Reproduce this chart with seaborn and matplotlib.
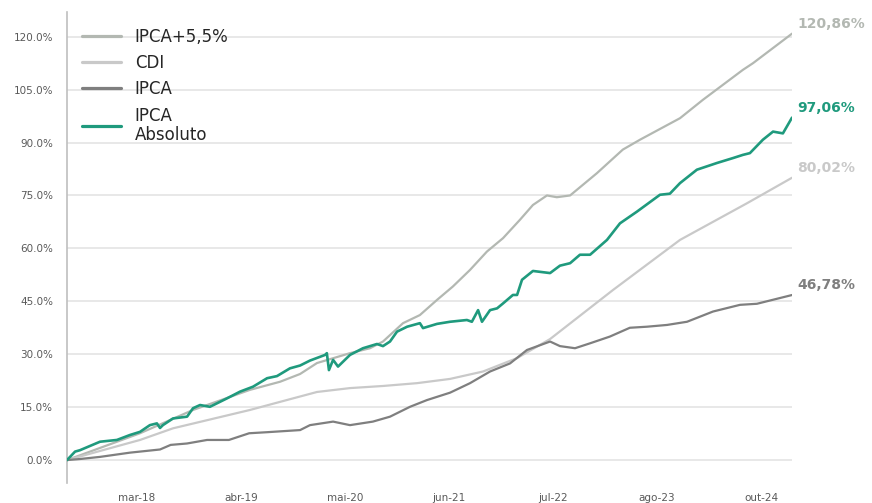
import matplotlib
matplotlib.use("Agg")
import matplotlib.pyplot as plt
import seaborn as sns
import pandas as pd

# ---------------- data ----------------
ipca55_dates = ["2017-06-01", "2018-03-09", "2018-09-29", "2019-05-06", "2019-08-30",
                "2019-11-15", "2020-01-19", "2020-05-25", "2020-08-10", "2020-09-29",
                "2020-12-15", "2021-02-18", "2021-04-25", "2021-06-25", "2021-08-30",
                "2021-11-03", "2022-01-04", "2022-03-10", "2022-04-29", "2022-06-22",
                "2022-07-30", "2022-09-19", "2022-12-31", "2023-04-10", "2023-06-15",
                "2023-11-16", "2024-02-12", "2024-07-15", "2024-08-23", "2025-01-20"]
ipca55_vals = [0.0, 7.6, 14.2, 19.9, 22.2,
               24.4, 27.5, 30.3, 31.7, 33.6,
               38.8, 41.1, 45.4, 49.2, 53.9,
               59.1, 62.9, 68.1, 72.3, 75.0,
               74.5, 75.0, 81.3, 88.0, 90.8,
               96.9, 102.1, 110.6, 112.5, 120.86]

cdi_dates = ["2017-06-01", "2017-12-10", "2018-03-09", "2018-07-14", "2019-05-06",
             "2019-08-30", "2020-01-19", "2020-05-25", "2020-09-29", "2021-02-07",
             "2021-06-14", "2021-10-19", "2022-02-27", "2022-07-04", "2023-03-03",
             "2023-11-16", "2024-07-31", "2025-01-20"]
cdi_vals = [0.0, 3.9, 5.7, 9.0, 14.2,
            16.5, 19.3, 20.4, 21.0, 21.8,
            23.0, 25.1, 28.9, 34.3, 48.2,
            62.4, 72.8, 80.02]

ipca_dates = ["2017-06-01", "2017-07-21", "2017-10-06", "2018-01-29", "2018-05-25",
              "2018-07-05", "2018-09-06", "2018-11-22", "2019-02-14", "2019-05-03",
              "2019-07-11", "2019-11-15", "2019-12-23", "2020-03-21", "2020-05-25",
              "2020-08-21", "2020-10-26", "2021-01-11", "2021-03-17", "2021-06-14",
              "2021-08-30", "2021-11-15", "2022-01-31", "2022-04-06", "2022-07-04",
              "2022-08-11", "2022-10-08", "2022-12-05", "2023-02-19", "2023-05-07",
              "2023-07-12", "2023-09-27", "2023-12-13", "2024-03-22", "2024-07-04",
              "2024-09-07", "2025-01-20"]
ipca_vals = [0.0, 0.3, 0.9, 2.1, 3.0,
             4.3, 4.7, 5.7, 5.7, 7.6,
             7.9, 8.5, 9.9, 10.9, 9.9,
             10.9, 12.3, 15.1, 17.0, 19.1,
             21.8, 25.1, 27.4, 31.2, 33.6,
             32.3, 31.7, 33.1, 35.0, 37.5,
             37.8, 38.3, 39.2, 42.1, 44.0,
             44.3, 46.78]

abs_dates = ["2017-06-01", "2017-07-02", "2017-07-21", "2017-10-06", "2017-12-10",
             "2018-01-29", "2018-03-09", "2018-04-16", "2018-05-13", "2018-05-25",
             "2018-06-05", "2018-07-14", "2018-09-06", "2018-09-29", "2018-10-26",
             "2018-12-03", "2019-02-07", "2019-03-29", "2019-05-18", "2019-07-11",
             "2019-08-18", "2019-10-07", "2019-11-15", "2019-12-23", "2020-02-19",
             "2020-02-26", "2020-03-05", "2020-03-21", "2020-04-09", "2020-05-25",
             "2020-07-14", "2020-09-06", "2020-09-29", "2020-10-26", "2020-11-22",
             "2020-12-31", "2021-02-18", "2021-03-02", "2021-04-25", "2021-06-14",
             "2021-08-18", "2021-09-06", "2021-09-30", "2021-10-15", "2021-11-15",
             "2021-12-12", "2022-01-04", "2022-02-11", "2022-02-27", "2022-03-18",
             "2022-04-29", "2022-07-04", "2022-08-11", "2022-09-19", "2022-10-27",
             "2022-12-05", "2023-02-08", "2023-03-30", "2023-06-03", "2023-08-31",
             "2023-10-08", "2023-11-16", "2024-01-20", "2024-04-06", "2024-06-07",
             "2024-07-15", "2024-08-11", "2024-09-30", "2024-11-08", "2024-12-16",
             "2025-01-20"]
abs_vals = [0.0, 2.4, 2.8, 5.2, 5.7,
            7.1, 8.0, 9.9, 10.4, 9.1,
            9.9, 11.8, 12.3, 14.7, 15.6,
            15.1, 17.5, 19.4, 20.8, 23.2,
            23.8, 26.0, 26.8, 28.2, 29.8,
            30.3, 25.5, 28.4, 26.5, 29.8,
            31.7, 32.9, 32.3, 33.6, 36.4,
            37.8, 38.8, 37.4, 38.6, 39.2,
            39.7, 39.2, 42.5, 39.2, 42.5,
            43.0, 44.4, 46.8, 46.8, 51.1,
            53.6, 53.0, 55.1, 55.8, 58.2,
            58.2, 62.4, 67.1, 70.4, 75.2,
            75.5, 78.5, 82.3, 84.2, 85.6,
            86.5, 87.0, 90.8, 93.1, 92.6,
            97.06]

series_names = ["IPCA+5,5%", "CDI", "IPCA", "IPCA\nAbsoluto"]
series_colors = ["#b3b8b2", "#c9c9c9", "#7f7f7f", "#1f9a7d"]

tick_dates = ["2018-02-25", "2019-04-02", "2020-05-06", "2021-06-10",
              "2022-07-15", "2023-08-19", "2024-09-26"]
tick_labels = ["mar-18", "abr-19", "mai-20", "jun-21", "jul-22", "ago-23", "out-24"]
y_ticks = [0, 15, 30, 45, 60, 75, 90, 105, 120]

# ---------------- plotting ----------------
sns.set_style("white")
plt.rcParams["font.family"] = ["DejaVu Sans"]

fig = plt.figure(figsize=(8.72, 5.03), dpi=100)
ax = fig.add_axes([67 / 872, 1 - 483 / 503, 725 / 872, 471 / 503])

all_dates = [ipca55_dates, cdi_dates, ipca_dates, abs_dates]
all_vals = [ipca55_vals, cdi_vals, ipca_vals, abs_vals]
widths = [1.6, 1.6, 1.6, 1.9]

for name, d, v, c, w in zip(series_names, all_dates, all_vals, series_colors, widths):
    df = pd.DataFrame({"date": pd.to_datetime(d), "value": v})
    sns.lineplot(data=df, x="date", y="value", ax=ax, color=c, linewidth=w,
                 label=name, zorder=3)
    ax.annotate(f"{v[-1]:.2f}%".replace(".", ","),
                xy=(df["date"].iloc[-1], v[-1]), xytext=(4, 7),
                textcoords="offset points", ha="left", va="center",
                fontsize=10, fontweight="bold", color=c, annotation_clip=False)

ax.set_xlim(pd.Timestamp("2017-06-01"), pd.Timestamp("2025-01-20"))
ax.set_ylim(-6.5, 127)
ax.set_yticks(y_ticks)
ax.set_yticklabels([f"{t:.1f}%" for t in y_ticks])
ax.set_xticks(pd.to_datetime(tick_dates))
ax.set_xticklabels(tick_labels)
ax.set_xlabel("")
ax.set_ylabel("")
ax.tick_params(axis="y", length=0, pad=10, labelsize=7.5, labelcolor="#595959")
ax.tick_params(axis="x", length=0, pad=7, labelsize=7.5, labelcolor="#595959")

ax.grid(axis="y", color="#e6e6e6", linewidth=1.3, zorder=0)
ax.grid(axis="x", visible=False)
for s in ["top", "right", "bottom"]:
    ax.spines[s].set_visible(False)
ax.spines["left"].set_color("#bfbfbf")
ax.spines["left"].set_linewidth(1.2)

leg = ax.legend(loc="upper left", bbox_to_anchor=(0.012, 0.981), frameon=False,
                fontsize=12, handlelength=2.3, handletextpad=0.85,
                labelspacing=0.5, borderaxespad=0)
for line in leg.get_lines():
    line.set_linewidth(2.3)
for t in leg.get_texts():
    t.set_color("#262626")
    t.set_linespacing(1.08)

fig.savefig("out.png", dpi=100)
